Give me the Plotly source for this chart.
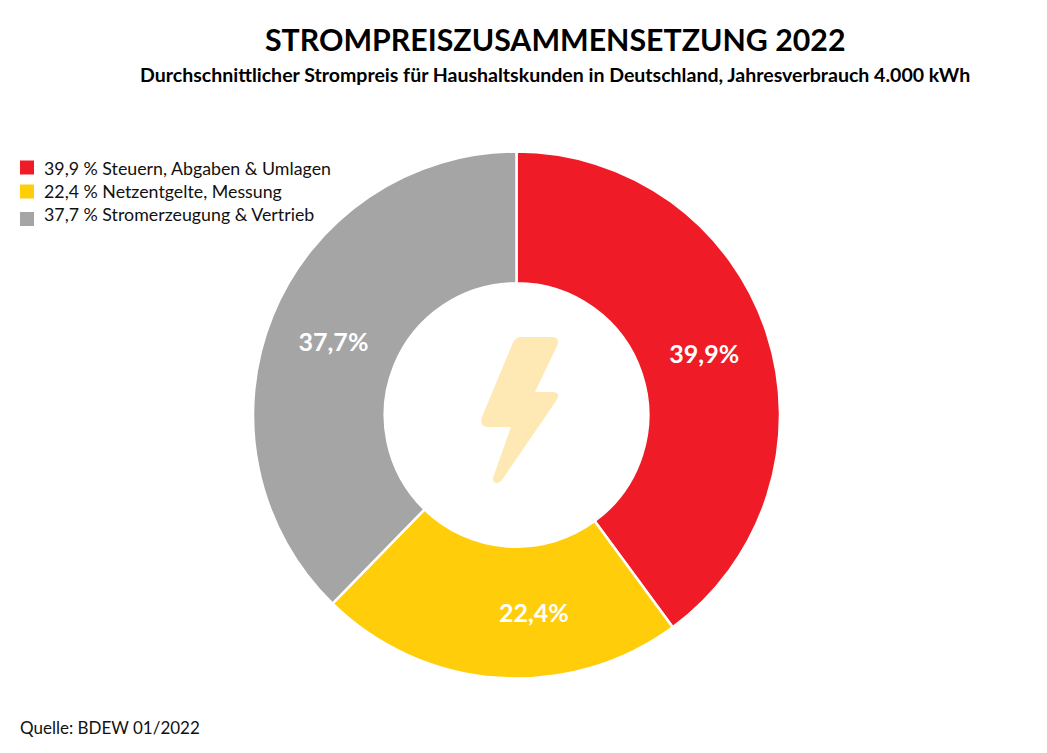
import plotly.graph_objects as go

W, H = 1047, 753
labels = ["39,9 % Steuern, Abgaben & Umlagen", "22,4 % Netzentgelte, Messung", "37,7 % Stromerzeugung & Vertrieb"]
values = [39.9, 22.4, 37.7]
slice_text = ["39,9%", "", "37,7%"]
colors = ["#EF1C27", "#FFCD0A", "#A5A5A5"]
title = "STROMPREISZUSAMMENSETZUNG 2022"
subtitle = "Durchschnittlicher Strompreis für Haushaltskunden in Deutschland, Jahresverbrauch 4.000 kWh"
source = "Quelle: BDEW 01/2022"
FONT = "Lato, Carlito, Arial, sans-serif"

def px(x): return x / W
def py(y): return 1 - y / H

def ann(x, y, text, size, bold=False, color="#000", anchor="center"):
    return dict(x=px(x), y=py(y), xref="paper", yref="paper", text=f"<b>{text}</b>" if bold else text,
                showarrow=False, xanchor=anchor, yanchor="middle", font=dict(family=FONT, size=size, color=color))

bolt = [("M",520,337),("L",551,337),("Q",561,337,557,346),("L",535,392),("L",552,392),("Q",562,392,556,401),
        ("L",502,480),("Q",497,485,494,482),("Q",492,480,494,475),("L",511,427),("L",488,427),("Q",479,427,482,417),
        ("L",512,345),("Q",515,337,520,337)]
path = ""
for seg in bolt:
    pts = seg[1:]
    coords = " ".join(f"{px(pts[i]):.5f},{py(pts[i+1]):.5f}" for i in range(0, len(pts), 2))
    path += f"{seg[0]} {coords} "
path += "Z"

shapes = [dict(type="path", path=path, xref="paper", yref="paper", fillcolor="#FEE8B4", line=dict(width=0), layer="above")]
swatch_y = [167.5, 191.5, 219]
legend_y = [167.5, 191, 214.5]
annotations = [
    ann(555, 39.5, title, 30.3, True),
    ann(555, 74, subtitle, 19.55, True),
    ann(18, 727, source, 17, False, "#111", "left"),
    ann(534, 612, "22,4%", 25, True, "white"),
]
for label, color, ys, yt in zip(labels, colors, swatch_y, legend_y):
    shapes.append(dict(type="rect", xref="paper", yref="paper", x0=px(20), x1=px(34), y0=py(ys + 7), y1=py(ys - 7),
                       fillcolor=color, line=dict(width=0)))
    annotations.append(ann(42, yt, label, 17.8, False, "#111", "left"))

fig = go.Figure(go.Pie(
    labels=labels, values=values, marker=dict(colors=colors, line=dict(color="white", width=2.5)),
    hole=0.5, sort=False, direction="clockwise", rotation=0,
    text=slice_text, textinfo="text", textposition="inside", insidetextorientation="horizontal",
    textfont=dict(family=FONT, size=25, color="white", weight="bold"),
    domain=dict(x=[px(516.5-263.5), px(516.5+263.5)], y=[py(415+263.5), py(415-263.5)]),
    hoverinfo="label",
))
fig.update_layout(
    width=W, height=H, margin=dict(l=0, r=0, t=0, b=0), paper_bgcolor="white", plot_bgcolor="white",
    font=dict(family=FONT), showlegend=False, shapes=shapes, annotations=annotations,
)
fig.write_html("out.html", config=dict(displayModeBar=False),
               post_script="document.body.style.margin='0';")
